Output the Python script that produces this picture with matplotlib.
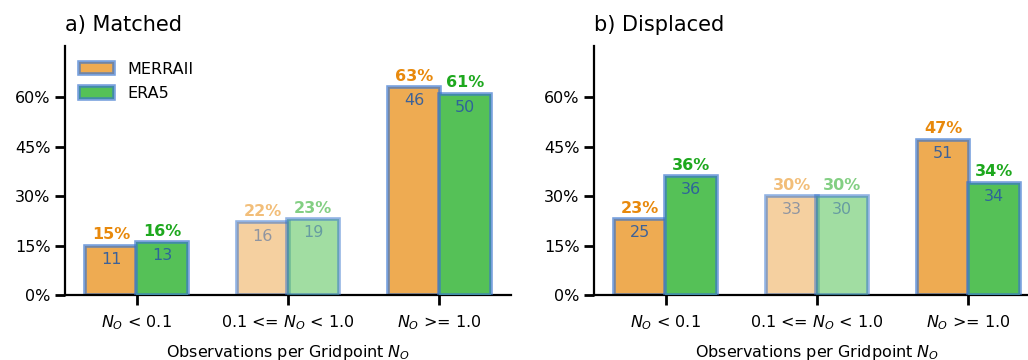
import matplotlib
matplotlib.use("Agg")
import matplotlib.pyplot as plt
from matplotlib.ticker import PercentFormatter
import numpy as np

# Category bins of observations per gridpoint
categories = ["$N_O$ < 0.1", "0.1 <= $N_O$ < 1.0", "$N_O$ >= 1.0"]
series_names = ["MERRAII", "ERA5"]

# Share of events per bin (percent) and event counts
matched_merra = [15, 22, 63]
matched_era5 = [16, 23, 61]
matched_merra_n = [11, 16, 46]
matched_era5_n = [13, 19, 50]

displaced_merra = [23, 30, 47]
displaced_era5 = [36, 30, 34]
displaced_merra_n = [25, 33, 51]
displaced_era5_n = [36, 30, 34]

panel_titles = ["a) Matched", "b) Displaced"]
xlabel = "Observations per Gridpoint $N_O$"
yticks = [0, 15, 30, 45, 60]

face_colors = ["#eeab52", "#55c157"]
text_colors = ["#e8890c", "#1ea81e"]
edge_color = (0.22, 0.45, 0.80, 0.68)
count_color = "#2a5aa0"
faded_bin = 1          # middle bin drawn translucent
faded_alpha = 0.55

plt.rcParams["font.family"] = ["DejaVu Sans"]

fig = plt.figure(figsize=(10.28, 3.6), dpi=100)
ax_a = fig.add_axes([0.0632, 0.1806, 0.4339, 0.6917])
ax_b = fig.add_axes([0.5778, 0.1806, 0.4339, 0.6917])

width = 0.345
x = np.arange(len(categories))

panels = [
    (ax_a, [matched_merra, matched_era5], [matched_merra_n, matched_era5_n]),
    (ax_b, [displaced_merra, displaced_era5], [displaced_merra_n, displaced_era5_n]),
]

for pi, (ax, shares, counts) in enumerate(panels):
    for si, (vals, ns) in enumerate(zip(shares, counts)):
        offs = (si - 0.5) * 0.335
        bars = ax.bar(x + offs, vals, width, color=face_colors[si],
                      edgecolor=edge_color, linewidth=2.6,
                      label=series_names[si], zorder=2 + si)
        for bi, (b, v, n) in enumerate(zip(bars, vals, ns)):
            a = faded_alpha if bi == faded_bin else 1.0
            if bi == faded_bin:
                b.set_alpha(faded_alpha)
            cx = b.get_x() + b.get_width() / 2
            ax.annotate(f"{v}%", (cx, v), xytext=(0, 2.5),
                        textcoords="offset points", ha="center", va="bottom",
                        fontsize=11.5, fontweight="bold", color=text_colors[si],
                        alpha=a, zorder=5)
            ax.annotate(f"{n}", (cx, v), xytext=(0, -4.5),
                        textcoords="offset points", ha="center", va="top",
                        fontsize=11.5, color=count_color, alpha=a * 0.9, zorder=5)

    ax.set_ylim(0, 75.5)
    ax.set_yticks(yticks)
    ax.yaxis.set_major_formatter(PercentFormatter(decimals=0))
    ax.set_xticks(x)
    ax.set_xticklabels(categories)
    ax.set_xlabel(xlabel, fontsize=11.5, labelpad=8)
    ax.set_title(panel_titles[pi], loc="left", fontsize=15, pad=11)
    for side in ("top", "right"):
        ax.spines[side].set_visible(False)
    for side in ("left", "bottom"):
        ax.spines[side].set_linewidth(1.6)
    ax.tick_params(axis="both", labelsize=11.5, width=2, length=7)
    ax.tick_params(axis="x", pad=6)

ax_a.legend(loc="upper left", frameon=False, fontsize=11.5,
            handlelength=2.2, handleheight=0.85, labelspacing=0.6,
            bbox_to_anchor=(0.0, 0.995))

fig.savefig("out.png", dpi=100)
